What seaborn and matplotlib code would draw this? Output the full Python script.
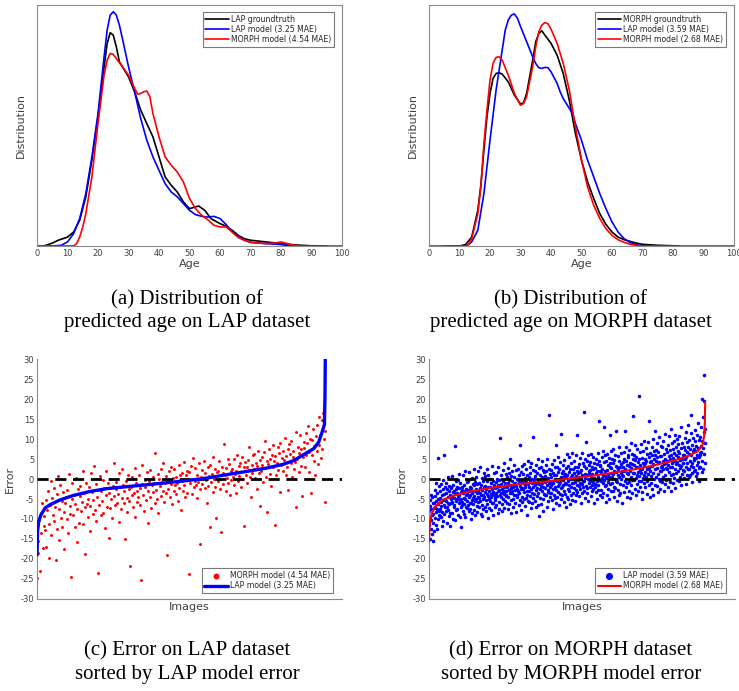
import numpy as np
import pandas as pd
import matplotlib
matplotlib.use("Agg")
import matplotlib.pyplot as plt
import seaborn as sns

# ---------------- (a) LAP distributions ----------------
a_gt_age = [0, 2, 3, 5, 7, 10, 12, 14, 16, 18, 20, 22, 23, 24, 25, 26, 27, 28, 30, 32,
            34, 36, 38, 40, 42, 44, 46, 48, 50, 52, 53, 55, 57, 60, 62, 64, 66, 68, 70, 75,
            80, 85, 90, 95]
a_gt_den = [0, 0, .003, .012, .024, .037, .058, .107, .204, .356, .536, .744, .84, .885, .875, .827, .765, .744, .702, .64,
            .564, .508, .453, .37, .287, .252, .224, .183, .155, .162, .166, .148, .114, .093, .082, .065, .044, .03, .024, .017,
            .01, .004, .001, 0]
a_lap_age = [4, 6, 8, 10, 12, 14, 16, 18, 20, 22, 23, 24, 25, 26, 27, 28, 30, 32, 34, 36,
             38, 40, 42, 44, 46, 48, 50, 52, 54, 56, 58, 60, 62, 64, 66, 68, 70, 75, 80, 83, 90]
a_lap_den = [0, .001, .003, .017, .051, .114, .217, .37, .55, .785, .896, .958, .972, .958, .917, .861, .744, .64, .529, .439,
             .37, .314, .259, .224, .204, .176, .148, .13, .123, .12, .123, .114, .089, .058, .037, .024, .015, .01, .006, 0, 0]
a_morph_age = [0, 12, 13, 14, 15, 16, 18, 20, 22, 23, 24, 25, 26, 28, 30, 32, 33, 34, 35, 36,
               37, 38, 40, 42, 44, 46, 48, 50, 52, 54, 56, 58, 60, 62, 64, 66, 68, 70, 75, 78,
               80, 82, 85, 88, 100]
a_morph_den = [0, 0, .01, .037, .079, .134, .287, .508, .709, .771, .799, .795, .778, .744, .709, .654, .63, .633, .64, .643,
               .62, .55, .453, .37, .335, .307, .266, .197, .155, .127, .109, .086, .079, .079, .058, .035, .024, .015, .01, .012,
               .017, .01, .001, 0, 0]

# ---------------- (b) MORPH distributions ----------------
b_gt_age = [8, 10, 12, 14, 16, 17, 18, 19, 20, 21, 22, 23, 24, 26, 28, 30, 31, 32, 34, 35,
            36, 37, 38, 40, 42, 44, 46, 48, 50, 52, 54, 56, 58, 60, 62, 64, 66, 68, 70, 75, 80, 82]
b_gt_den = [0, 0, .006, .037, .148, .252, .398, .536, .633, .695, .716, .719, .713, .681, .626, .589, .594, .633, .771, .848,
            .882, .893, .875, .841, .792, .716, .605, .467, .356, .266, .197, .134, .09, .058, .037, .026, .019, .012, .007, .003,
            .001, 0]
b_lap_age = [5, 12, 13, 14, 16, 18, 20, 22, 24, 25, 26, 27, 28, 29, 30, 32, 34, 35, 36, 37,
             38, 39, 40, 42, 43, 44, 46, 47, 48, 50, 52, 54, 56, 58, 60, 62, 64, 66, 68, 70, 72]
b_lap_den = [0, 0, .006, .017, .065, .217, .439, .647, .813, .896, .938, .958, .963, .945, .911, .848, .785, .757, .74, .737,
             .741, .74, .723, .675, .64, .612, .571, .55, .508, .439, .356, .287, .217, .155, .1, .058, .03, .014, .006, .001, 0]
b_morph_age = [0, 12, 13, 14, 16, 17, 18, 19, 20, 21, 22, 23, 24, 26, 28, 30, 31, 32, 34, 35,
               36, 37, 38, 39, 40, 42, 44, 46, 48, 50, 52, 54, 56, 58, 60, 62, 64, 66, 68, 70, 100]
b_morph_den = [0, 0, .006, .03, .134, .245, .423, .564, .688, .758, .783, .785, .771, .709, .633, .584, .591, .619, .744, .827,
               .889, .917, .927, .922, .9, .841, .758, .647, .495, .356, .245, .169, .114, .072, .044, .026, .015, .007, .003, 0, 0]

# ---------------- (c) LAP errors, sorted by LAP model ----------------
c_line_rank = [0, 0.2, 0.6, 1.4, 2.9, 4.6, 8.1, 12.7, 18.5, 24.3, 33.5, 42.8, 52.0, 59.0, 65.9, 72.8,
               79.8, 85.5, 89.0, 92.5, 96.0, 97.7, 98.8, 99.7, 99.9, 100]
c_line_err = [-19, -13, -10.6, -8.9, -7.2, -6.4, -5.2, -4.1, -3.1, -2.4, -1.75, -1.1, -0.4, 0.25, 1.1, 1.9,
              2.75, 3.7, 4.6, 6.1, 7.6, 9.2, 11.5, 13.6, 21, 30]
c_morph_err = [
    -24.7, -18.5, -15.5, -10.2, -23.1, -8.4, -13.6, -6.1, -17.2, -11.8,
    -9.3, -12.7, -5.2, -16.9, -7.8, -3.1, -11.2, -19.8, -6.6, -0.4,
    -14.1, -4.8, -8.9, -2.2, -10.6, -6.9, -20.3, -3.7, -12.4, 0.8,
    -7.5, -15.3, -1.6, -9.7, -5.4, -11.9, -3.3, -8.2, -17.6, -6.0,
    -4.6, -10.1, -2.8, -13.4, 1.2, -6.7, -8.8, -24.4, -5.1, -1.0,
    -9.0, -3.9, -6.3, -12.0, 0.3, -7.4, -15.8, -2.5, -10.9, -4.2,
    -1.8, -8.1, -5.7, 2.1, -11.3, -3.6, -7.0, -18.8, -0.9, -6.2,
    -4.9, -9.6, -2.0, -13.0, -6.8, 1.6, -3.2, -8.7, -5.3, 3.3,
    -7.7, -1.3, -10.4, -4.4, -23.4, -2.7, -6.4, 0.7, -9.1, -3.0,
    -5.6, -0.2, -8.5, -2.3, -12.3, -4.0, 1.9, -6.9, -1.1, -14.7,
    -3.5, -7.3, 0.1, -5.0, -9.8, -1.7, 3.9, -4.3, -6.5, -2.6,
    -0.8, -5.9, -3.8, -10.7, 1.4, -2.1, -7.6, -4.7, 2.5, -1.5,
    -6.1, -3.0, -15.1, -0.5, -4.8, -8.3, 1.0, -2.4, -5.5, -21.7,
    -1.9, -4.1, 0.6, -7.1, -3.4, 2.8, -9.5, -0.9, -5.8, -2.9,
    -4.5, 0.9, -2.2, -6.6, -25.3, -1.2, 3.4, -3.9, -8.0, -0.3,
    -2.0, -5.2, 1.7, -3.1, -11.0, -0.6, -4.6, 2.2, -7.2, -1.4,
    0.4, -3.3, -1.0, -6.0, 6.5, -2.7, -4.9, 1.3, -8.6, -0.1,
    -1.7, 2.6, -4.2, -0.7, -2.9, 4.1, -5.7, -1.1, 0.8, -3.6,
    -19.0, -0.4, -2.5, 1.9, -4.4, 3.0, -1.3, -6.3, 0.2, -3.0,
    2.4, -1.6, -3.8, 0.5, -0.9, -5.4, 3.6, -2.2, 1.1, -7.8,
    -0.6, 1.5, -2.9, 4.3, -1.4, -4.5, 0.9, 2.0, -3.4, -0.2,
    -23.7, 1.8, -1.0, 3.2, -3.7, 0.0, 5.2, -2.1, -0.5, 2.7,
    -1.5, -4.8, 1.0, -0.8, 3.9, -2.6, -16.3, 0.6, 2.3, -1.2,
    0.3, 4.6, -2.3, 1.6, -0.3, -5.9, 2.9, -1.8, 0.7, -11.9,
    3.5, -0.7, 1.2, -3.2, 5.6, 0.1, -1.9, 2.4, -9.7, 1.8,
    -0.4, 2.0, 4.4, -2.5, 0.9, -13.2, 3.1, -1.3, 1.5, 8.7,
    1.1, -2.9, 2.8, 0.2, 5.0, -0.9, 3.7, -4.1, 1.9, -0.2,
    2.6, 0.4, -1.6, 4.9, 1.3, -3.6, 2.1, 6.0, -0.6, 3.3,
    0.8, 3.9, -2.0, 1.7, 5.4, -0.1, 2.9, -11.7, 4.2, 1.0,
    3.0, -1.0, 4.7, 2.2, 8.0, 0.6, -4.6, 3.6, 1.4, 5.9,
    2.5, 6.3, 0.3, 4.0, -2.4, 3.2, 7.1, 1.6, -6.8, 4.8,
    1.9, 5.5, 3.4, -0.8, 6.8, 2.7, 9.6, 0.5, 4.4, -8.2,
    3.8, 7.4, 1.2, 5.1, -1.7, 6.1, 2.9, 8.4, 4.5, -11.5,
    5.7, 0.9, 4.1, 7.9, 2.3, 6.6, -3.2, 9.0, 3.5, 5.3,
    2.0, 6.9, 4.7, 10.3, 1.1, 5.8, 3.1, 7.6, -2.8, 8.8,
    6.2, 3.9, 9.5, 0.4, 5.5, 7.0, 2.6, 4.3, 11.8, -6.9,
    4.9, 8.1, 1.7, 6.5, 10.9, 3.3, 7.4, -4.2, 5.6, 9.2,
    7.8, 3.0, 11.4, 5.9, 8.9, 13.2, 1.8, 6.7, 10.0, -3.5,
    6.0, 9.7, 12.5, 4.6, 8.3, 0.9, 10.8, 7.1, 13.6, 3.8,
    8.6, 15.6, 11.1, 5.2, 14.8, 7.5, 16.5, 9.9, -5.8, 12.0,
]

# ---------------- (d) MORPH errors, sorted by MORPH model ----------------
d_line_rank = [0, 0.24, 0.85, 2.06, 4.48, 8.73, 14.8, 23.3, 33.0, 42.7, 52.4, 62.1, 71.8, 80.2,
               87.5, 93.6, 97.3, 99.1, 99.7, 99.88, 100]
d_line_err = [-15.6, -11.4, -8.9, -7.1, -5.4, -4.2, -3.1, -2.1, -1.25, -0.6, 0.25, 1.1, 2.1, 3.2,
              4.4, 5.7, 6.9, 8.6, 11.1, 14.4, 19.2]
d_lap_err = [
    -8.1, -11.6, -5.3, -14.9, -9.7, -6.8, -12.4, -3.9, -10.2, -7.5, -13.8, -4.6, -9.0, -15.6, -6.1, -11.0, -8.8, -5.9, -12.9, -7.2,
    -4.2, -9.8, -6.9, -2.7, -11.4, -5.6, -8.3, -0.9, -7.4, -12.6, -3.5, -6.2, -10.1, 5.2, -5.0, -8.9, -1.8, -7.9, -4.7, -9.3,
    -7.6, -3.1, -9.4, -5.8, -1.2, -6.7, -11.8, -4.0, -8.2, -2.4, -5.2, -10.5, -0.3, -6.4, -3.7, -8.7, 6.1, -4.9, -7.0, -2.0,
    -3.4, -8.0, -5.5, -1.0, -6.9, -10.9, -2.6, -4.5, -7.7, 0.4, -5.9, -3.0, -9.2, -6.3, -1.7, -4.1, -8.6, -11.7, -2.2, -5.1,
    -6.0, -2.1, -8.4, -4.3, 0.8, -5.7, -3.3, -9.9, -1.4, -7.1, -4.8, -2.9, -6.6, 8.3, -3.8, -10.3, -0.6, -5.4, -7.8, -2.5,
    -1.9, -5.1, -7.4, -3.6, -0.2, -8.9, -4.4, -2.3, -6.1, 1.3, -3.9, -9.6, -5.3, -1.1, -7.0, -3.2, -4.9, -11.9, -2.7, -6.4,
    -5.8, -2.0, -7.9, -3.5, 0.9, -4.7, -8.8, -1.5, -6.2, -3.0, 2.1, -5.0, -9.4, -2.4, -6.9, -4.1, -0.7, -7.3, -3.7, -5.5,
    -2.8, -6.6, -0.4, -4.6, -8.1, -3.1, 1.7, -5.9, -1.9, -7.5, -4.0, -10.1, -2.2, -6.0, 0.2, -3.4, -5.2, -8.6, -1.3, -4.8,
    -6.3, -1.6, -4.2, 2.4, -7.7, -3.0, -0.8, -5.4, -9.0, -2.5, -4.9, 0.6, -6.8, -3.6, -1.2, -8.3, -4.4, 1.9, -2.9, -5.7,
    -0.9, -4.8, -7.1, -2.2, 3.0, -5.6, -3.5, -8.7, -1.4, -4.1, -6.4, 0.3, -2.8, -9.3, -3.9, -0.5, -5.1, -7.6, -2.0, 1.4,
    -4.6, -1.7, -6.9, -3.3, 0.7, -8.0, -2.4, -5.3, 2.6, -3.8, -0.4, -6.2, -9.7, -1.9, -4.3, 1.1, -7.3, -2.9, -5.0, -0.1,
    -2.1, -5.5, 0.1, -3.7, -7.8, -1.0, -4.5, 3.2, -6.1, -2.6, -8.9, -0.6, -3.2, -5.9, 1.5, -4.0, -1.6, -7.0, -2.3, -4.8,
    -5.2, -0.8, -3.6, 1.8, -6.6, -2.0, -4.3, 0.0, -8.4, -1.4, -3.1, 2.9, -5.7, -2.7, -0.3, -7.4, -4.0, 10.2, -1.8, -3.4,
    -1.2, -4.5, 0.9, -6.3, -2.4, -8.1, -3.3, 2.2, -0.5, -5.0, -1.9, -3.8, 4.0, -7.2, -2.9, -0.9, -5.6, 1.3, -3.1, -4.2,
    -3.9, 0.4, -2.1, -5.9, -1.0, 2.8, -4.4, -7.6, -0.2, -2.8, -6.2, 1.6, -3.5, -1.5, 4.9, -5.2, -2.3, -8.5, 0.8, -3.0,
    -0.6, -3.4, 1.9, -5.1, -2.0, -7.0, 0.5, -4.1, -1.3, 3.5, -2.7, -6.0, -0.9, -3.9, 2.3, -8.2, -1.7, -4.6, 0.0, -2.4,
    -4.0, -0.3, 2.6, -2.9, -6.5, -1.1, 0.9, -3.6, 8.5, -5.3, -1.8, 1.7, -2.4, -7.8, -0.6, -4.4, 3.3, -2.2, -5.8, -0.9,
    1.2, -2.6, -5.0, -0.4, 3.8, -3.3, -1.5, -6.8, 0.3, -2.1, 2.4, -4.7, -0.8, -8.9, -2.9, 1.0, -3.9, 4.6, -1.2, -5.5,
    -3.1, 0.6, -1.9, -5.7, 2.9, -0.2, -4.2, 1.5, -2.5, -7.3, 4.1, -1.0, -3.6, 0.0, -6.1, 2.2, -2.0, 10.5, -4.8, -0.7,
    -0.1, -3.8, 2.0, -1.6, -5.4, 0.8, -2.8, 3.6, -7.0, -0.9, -4.3, 1.4, -2.2, 5.0, -3.4, -0.5, -6.5, 2.7, -1.3, -9.2,
    -2.5, 1.1, -4.7, -0.3, 3.1, -1.8, -6.2, 0.5, -3.0, 4.4, -1.0, -5.1, 2.3, -2.1, -8.0, 0.0, -3.7, 1.8, -0.8, -4.1,
    0.7, -2.3, 3.4, -4.0, -0.6, 1.9, -6.9, -1.5, 5.1, -3.2, 0.2, -2.7, -5.6, 2.6, -0.9, 16.0, -4.5, 1.3, -1.9, -3.6,
    -1.4, 2.2, -3.5, 0.4, -5.3, 3.8, -0.7, -2.4, 1.6, -7.5, -1.1, 4.7, -3.9, 0.9, -2.0, -4.8, 2.9, -0.2, 8.6, -6.0,
    1.0, -2.8, 3.0, -0.5, -4.6, 1.8, -1.7, 5.6, -3.3, 0.1, -6.4, 2.5, -1.2, -3.8, 4.2, -0.8, -2.2, 11.3, -5.1, 0.6,
    -2.0, 1.5, -4.1, 3.6, -0.3, -1.6, 2.1, -5.8, 0.7, -2.9, 4.8, -0.9, -3.7, 1.2, -7.1, 2.8, -1.3, 0.3, -4.4, 6.2,
    0.9, -2.5, 3.3, -0.6, -4.9, 1.7, 5.4, -1.4, -3.1, 2.4, -0.1, -6.3, 3.9, -2.0, 0.5, -3.9, 1.1, -1.0, 6.5, -5.2,
    -1.1, 2.6, -3.4, 0.2, 4.5, -2.3, 1.4, -5.5, 3.1, -0.7, -2.7, 5.9, 0.8, -4.0, 2.0, -1.6, 11.0, -3.2, 1.6, -0.3,
    2.9, -1.8, 0.4, -4.3, 3.7, -0.9, 1.8, -2.6, 5.2, -5.9, 0.0, 2.3, -3.5, 6.4, -1.2, 1.0, -2.1, 4.1, -0.4, 16.7,
    -0.5, 3.2, -2.9, 1.2, -4.8, 5.0, 0.3, -1.7, 2.7, 9.3, -3.6, 0.9, 4.4, -2.2, -0.1, 6.1, -5.4, 1.9, -1.0, 3.5,
    1.6, -2.0, 4.3, -0.4, 2.2, -4.2, 0.8, 6.3, -1.5, 3.0, -3.1, 1.3, 5.6, -0.8, -2.6, 2.5, -6.1, 0.2, 4.0, -1.2,
    -1.9, 2.8, 0.1, 5.1, -3.3, 1.5, -0.6, 3.8, -5.0, 2.0, 6.6, -1.4, 0.6, -2.8, 4.6, 14.5, -0.3, 1.9, -4.1, 3.2,
    3.6, -0.5, 1.8, -2.7, 5.5, 0.3, -4.6, 2.6, 7.0, -1.1, 1.0, -3.4, 4.2, -0.2, 13.0, 2.1, -1.8, 6.0, 0.7, -5.8,
    0.2, 4.4, -1.6, 2.3, -3.9, 6.2, 1.1, -0.8, 3.4, -2.4, 5.3, 0.5, -5.1, 2.9, 11.0, -1.3, 4.0, 1.6, -3.0, 7.1,
    2.7, -0.9, 5.0, 0.6, -3.1, 3.9, 1.3, 7.4, -1.9, 2.0, -4.4, 4.8, 0.0, 6.1, -2.3, 1.7, 12.0, -0.4, 3.3, -5.6,
    -0.7, 3.1, 1.0, 5.8, -2.8, 2.4, 0.4, -4.0, 4.5, 7.9, -1.2, 2.9, -3.5, 1.5, 6.5, -0.1, 3.7, -5.9, 2.1, 0.9,
    4.2, 0.8, -1.6, 3.0, 6.7, -3.3, 1.9, 5.1, -0.5, 2.6, 12.0, -2.1, 4.6, 0.1, 8.1, -4.5, 1.4, 3.5, -1.0, 6.0,
    1.2, 5.4, -0.8, 3.2, -2.9, 7.2, 2.0, -4.7, 4.1, 0.5, 9.0, -1.5, 2.8, 6.3, -0.2, 3.8, -3.6, 1.6, 5.0, 15.8,
    3.5, -0.3, 6.0, 1.4, -2.4, 4.7, 8.4, 0.2, -4.1, 2.9, 5.6, -1.2, 3.1, 7.5, 0.9, -3.0, 4.3, 1.8, 20.8, -0.6,
    0.7, 4.9, 2.2, -1.9, 6.8, 3.6, -0.4, 8.7, 1.5, -3.3, 5.2, 2.6, -5.0, 4.0, 0.3, 7.1, -1.1, 3.3, 9.6, 1.0,
    5.0, 1.7, -2.0, 3.9, 7.7, 0.6, 4.6, -3.8, 2.4, 6.2, -0.5, 3.1, 9.3, 1.2, -1.6, 5.5, 14.4, 2.7, -4.6, 4.2,
    2.1, 6.5, -0.9, 4.4, 0.8, 8.0, 3.2, -2.5, 5.9, 1.6, 10.1, -4.0, 3.8, 7.0, 0.1, 4.9, -1.4, 12.0, 2.5, 6.1,
    4.6, 0.4, 7.3, 2.8, -1.7, 5.4, 9.0, 1.3, -3.2, 3.9, 6.7, 0.0, 4.2, 10.4, -2.4, 2.0, 5.8, -0.6, 8.2, 3.0,
    1.9, 5.7, 3.3, -0.8, 7.9, 4.4, 0.6, 9.6, 2.5, -2.9, 6.2, 3.7, -1.3, 5.0, 11.2, 1.1, 4.0, 7.4, -0.2, 2.8,
    6.8, 2.6, 4.5, 0.1, 8.6, 3.4, -1.9, 5.8, 10.8, 1.7, 4.9, -0.7, 7.2, 3.0, 12.4, 0.9, 6.0, -3.0, 4.1, 9.1,
    3.1, 7.5, 1.2, 5.3, -1.0, 9.4, 4.6, 0.3, 6.6, 2.4, 11.0, -2.2, 5.9, 3.8, 8.0, 1.6, 4.3, 10.0, -0.3, 6.9,
    5.6, 1.9, 8.8, 3.6, -0.5, 6.4, 10.7, 2.8, 4.8, 0.4, 7.7, 12.9, 3.2, -1.6, 5.1, 9.0, 1.3, 6.1, 4.0, 2.3,
    3.9, 8.1, 2.0, 6.0, 0.2, 10.3, 4.9, 7.3, -1.2, 5.5, 11.8, 3.0, 9.2, 1.1, 6.8, 4.1, 13.5, 2.6, 7.9, 0.6,
    6.3, 2.4, 9.8, 4.5, 0.9, 7.6, 16.0, 3.3, 5.9, 11.5, 1.6, 8.4, 4.0, -0.8, 6.9, 3.0, 10.2, 5.2, 2.1, 7.4,
    4.7, 9.4, 2.3, 7.0, 12.3, 5.3, 0.7, 8.2, 3.6, 10.9, 6.1, 1.4, 14.0, 4.2, 7.7, 2.8, 9.8, 5.6, -0.4, 6.5,
    5.9, 10.6, 3.1, 8.3, 13.0, 6.7, 20.1, 1.8, 9.5, 4.5, 15.4, 7.8, 2.4, 11.7, 19.6, 6.2, 26.1, 8.9, 4.0, 12.6,
]

sns.set_theme(style="white")
plt.rcParams['font.family'] = ['DejaVu Sans']
plt.rcParams['axes.unicode_minus'] = False

SPINE = '#8a8a8a'
TXT = '#404040'
W, H = 739, 691

fig = plt.figure(figsize=(W / 100, H / 100), dpi=100)


def box(l, t, r, b):
    return [l / W, 1 - b / H, (r - l) / W, (b - t) / H]


ax_a = fig.add_axes(box(37, 5, 342, 246))
ax_b = fig.add_axes(box(429, 5, 734, 246))
ax_c = fig.add_axes(box(37, 359, 342, 599))
ax_d = fig.add_axes(box(429, 359, 735, 599))


def leg(ax, loc, anchor):
    lg = ax.legend(loc=loc, bbox_to_anchor=anchor, borderaxespad=0, fontsize=5.6,
                   frameon=True, fancybox=False, framealpha=1, edgecolor='#7a7a7a',
                   handlelength=3.0, handletextpad=0.3, labelspacing=0.15, borderpad=0.35,
                   markerscale=2.0)
    lg.get_frame().set_linewidth(0.8)
    for t in lg.get_texts():
        t.set_color('#262626')


def dist_panel(ax, curves):
    for age, den, col, lab in curves:
        sns.lineplot(x=age, y=den, color=col, lw=1.2, label=lab, ax=ax, sort=False)
    ax.set_xlim(0, 100)
    ax.set_ylim(0, 1)
    ax.set_xticks(range(0, 101, 10))
    ax.set_yticks([])
    ax.tick_params(axis='x', direction='in', length=3, width=0.6, colors=SPINE,
                   labelsize=6, labelcolor=TXT, pad=2)
    for s in ax.spines.values():
        s.set_color(SPINE)
        s.set_linewidth(0.8)
    ax.set_xlabel('Age', fontsize=8, color=TXT, labelpad=1)
    ax.set_ylabel('Distribution', fontsize=8, color=TXT, labelpad=8)
    leg(ax, 'upper right', (1 - 8 / 305, 1 - 7 / 241))


dist_panel(ax_a, [(a_gt_age, a_gt_den, 'black', 'LAP groundtruth'),
                  (a_lap_age, a_lap_den, 'blue', 'LAP model (3.25 MAE)'),
                  (a_morph_age, a_morph_den, 'red', 'MORPH model (4.54 MAE)')])
dist_panel(ax_b, [(b_gt_age, b_gt_den, 'black', 'MORPH groundtruth'),
                  (b_lap_age, b_lap_den, 'blue', 'LAP model (3.59 MAE)'),
                  (b_morph_age, b_morph_den, 'red', 'MORPH model (2.68 MAE)')])


def error_panel(ax, pts, pcol, plab, psize, lrank, lerr, lcol, llab, lw, xmax):
    rank = np.linspace(0, 100, len(pts))
    sns.scatterplot(x=rank, y=pts, color=pcol, s=psize, linewidth=0, label=plab, ax=ax, zorder=2)
    ax.axhline(0, color='black', lw=2, ls=(0, (4, 2.4)), zorder=3)
    sns.lineplot(x=lrank, y=lerr, color=lcol, lw=lw, label=llab, ax=ax, sort=False, zorder=4)
    ax.set_xlim(0, xmax)
    ax.set_ylim(-30, 30)
    ax.set_yticks(range(-30, 31, 5))
    ax.set_xticks([])
    ax.tick_params(axis='y', direction='in', length=3, width=0.6, colors=SPINE,
                   labelsize=6, labelcolor=TXT, pad=2)
    for k in ('top', 'right'):
        ax.spines[k].set_visible(False)
    for k in ('left', 'bottom'):
        ax.spines[k].set_color(SPINE)
        ax.spines[k].set_linewidth(0.8)
    ax.set_xlabel('Images', fontsize=8, color=TXT, labelpad=2)
    ax.set_ylabel('Error', fontsize=8, color=TXT, labelpad=4)
    leg(ax, 'lower right', (1 - 9 / 305, 6 / 240))


error_panel(ax_c, c_morph_err, 'red', 'MORPH model (4.54 MAE)', 4.5,
            c_line_rank, c_line_err, 'blue', 'LAP model (3.25 MAE)', 2.4, 105.8)
error_panel(ax_d, d_lap_err, 'blue', 'LAP model (3.59 MAE)', 6.5,
            d_line_rank, d_line_err, 'red', 'MORPH model (2.68 MAE)', 1.5, 110.8)

captions = [
    (187, 300, '(a) Distribution of'), (187, 323, 'predicted age on LAP dataset'),
    (571, 300, '(b) Distribution of'), (571, 323, 'predicted age on MORPH dataset'),
    (187, 651, '(c) Error on LAP dataset'), (187, 674, 'sorted by LAP model error'),
    (571, 651, '(d) Error on MORPH dataset'), (571, 674, 'sorted by MORPH model error'),
]
for x, y, t in captions:
    fig.text(x / W, 1 - y / H, t, ha='center', va='center', fontsize=15,
             family=['Liberation Serif'], color='black')

fig.savefig('out.png', dpi=100)
